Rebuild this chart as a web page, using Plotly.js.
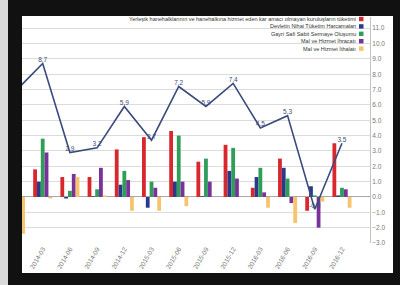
<!DOCTYPE html>
<html>
<head>
<meta charset="utf-8">
<script src="https://cdn.plot.ly/plotly-3.0.1.min.js"></script>
<style>html,body{margin:0;padding:0;background:#fff;}#chart{width:400px;height:285px;}</style>
</head>
<body>
<div id="chart"></div>
<script>
const categories = ['2013-12','2014-03','2014-06','2014-09','2014-12','2015-03','2015-06','2015-09','2015-12','2016-03','2016-06','2016-09','2016-12'];
const gdpGrowth   = [6.9, 8.7, 2.9, 3.2, 5.9, 3.7, 7.2, 5.9, 7.4, 4.5, 5.3, -0.8, 3.5];
const consumption = [null, 1.8, 1.3, 1.3, 3.1, 3.9, 4.3, 2.3, 3.4, 0.6, 2.5, -0.9, 3.5];
const government  = [null, 1.0, -0.1, 0.05, 0.8, -0.7, 1.0, 0.05, 1.7, 1.3, 1.9, 0.7, 0.1];
const investment  = [null, 3.8, 0.4, 0.5, 1.7, 1.0, 4.0, 2.5, 3.2, 1.9, 1.2, 0.1, 0.6];
const exportsS    = [null, 2.9, 1.5, 1.9, 1.1, 0.6, 1.0, 1.0, 1.2, 0.3, -0.4, -2.0, 0.5];
const importsS    = [-2.4, -0.1, 1.3, 0.1, -0.9, -0.9, -0.6, 0.0, 0.0, -0.7, -1.7, -0.3, -0.7];
const seriesNames = [
  'Yerleşik hanehalklarının ve hanehalkına hizmet eden kar amacı olmayan kuruluşların tüketimi',
  'Devletin Nihai Tüketim Harcamaları',
  'Gayri Safi Sabit Sermaye Oluşumu',
  'Mal ve Hizmet İhracatı',
  'Mal ve Hizmet İthalatı'
];
const seriesColors = ['#d8282e', '#2a3a8a', '#2e9e58', '#7a329a', '#f6c36e'];
const seriesValues = [consumption, government, investment, exportsS, importsS];

// layout geometry (pixels)
const W = 400, H = 285;
const L = 22, R = 370, T = 17, B = 243;
const px = X => (X - L) / (R - L);
const py = Y => 1 - (Y - T) / (B - T);

const traces = seriesValues.map((vals, i) => ({
  type: 'bar', x: categories, y: vals, name: seriesNames[i],
  marker: {color: seriesColors[i]}, showlegend: false, hoverinfo: 'skip'
}));
traces.push({
  type: 'scatter', mode: 'lines+text', x: categories, y: gdpGrowth,
  text: gdpGrowth.map(v => v.toFixed(1)), textposition: 'top center',
  textfont: {size: 6.5, color: '#3b4b7c', family: 'Liberation Sans, Arial'},
  line: {color: '#3b4b7c', width: 1.6}, cliponaxis: true, showlegend: false, hoverinfo: 'skip'
});

const shapes = [
  // photo bezel
  {type:'rect', xref:'paper', yref:'paper', x0:px(0), x1:px(8), y0:py(0), y1:py(H), fillcolor:'#d9d9d9', line:{width:0}, layer:'above'},
  {type:'rect', xref:'paper', yref:'paper', x0:px(8), x1:px(W), y0:py(0), y1:py(16), fillcolor:'#111', line:{width:0}, layer:'above'},
  {type:'rect', xref:'paper', yref:'paper', x0:px(8), x1:px(L), y0:py(0), y1:py(H), fillcolor:'#111', line:{width:0}, layer:'above'},
  {type:'rect', xref:'paper', yref:'paper', x0:px(393), x1:px(W), y0:py(0), y1:py(H), fillcolor:'#111', line:{width:0}, layer:'above'},
  {type:'rect', xref:'paper', yref:'paper', x0:px(8), x1:px(W), y0:py(273), y1:py(H), fillcolor:'#111', line:{width:0}, layer:'above'}
];
const annotations = [];
seriesNames.forEach((n, i) => {
  const yc = 19 + 7.4 * i;
  annotations.push({xref:'paper', yref:'paper', x:px(357.5), y:py(yc), xanchor:'right', yanchor:'middle',
    text:n, showarrow:false, font:{size:5.5, color:'#333', family:'Liberation Sans, Arial'}});
  shapes.push({type:'rect', xref:'paper', yref:'paper', x0:px(359), x1:px(363.5), y0:py(yc-2.2), y1:py(yc+2.2),
    fillcolor:seriesColors[i], line:{width:0}});
});

const layout = {
  width: W, height: H,
  margin: {l: L, r: W - R, t: T, b: H - B, pad: 0},
  paper_bgcolor: '#ffffff', plot_bgcolor: '#ffffff',
  font: {family: 'Liberation Sans, Arial', color: '#666'},
  barmode: 'group', bargap: 0.3, bargroupgap: 0,
  xaxis: {type: 'category', categoryorder: 'array', categoryarray: categories,
    range: [0.239, 13.03], tickangle: -60, tickfont: {size: 6.5, color: '#777'},
    showgrid: false, showline: false, ticks: '', zeroline: false, fixedrange: true},
  yaxis: {side: 'right', range: [-3, 11.73], dtick: 1, tick0: 0, tickformat: '.1f',
    tickfont: {size: 6.5, color: '#777'}, gridcolor: '#dcdcdc', gridwidth: 1,
    zeroline: true, zerolinecolor: '#a8a8a8', zerolinewidth: 1,
    showline: true, linecolor: '#c4c4c4', linewidth: 1, ticks: '', fixedrange: true},
  shapes: shapes, annotations: annotations, showlegend: false
};
Plotly.newPlot('chart', traces, layout, {displayModeBar: false, staticPlot: true});
</script>
</body>
</html>
